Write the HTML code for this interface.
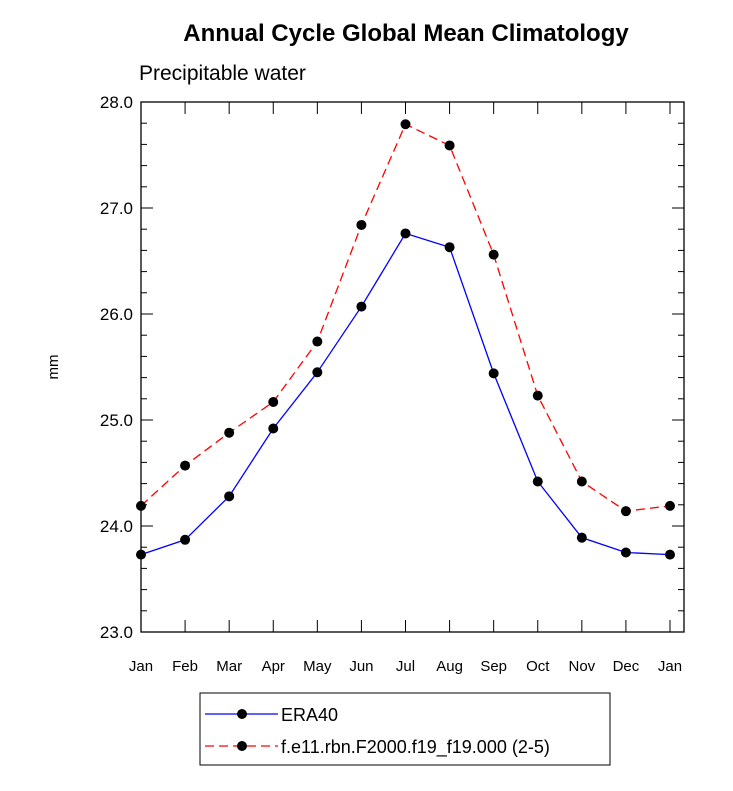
<!DOCTYPE html>
<html><head><meta charset="utf-8"><style>
body{margin:0;background:#fff;font-family:"Liberation Sans",sans-serif;}
</style></head><body>
<svg width="733" height="786" xmlns="http://www.w3.org/2000/svg">
<text x="406" y="41" text-anchor="middle" font-size="24" font-weight="bold">Annual Cycle Global Mean Climatology</text>
<text x="139" y="80" font-size="21">Precipitable water</text>
<text x="0" y="0" font-size="15" transform="translate(58,367) rotate(-90)" text-anchor="middle">mm</text>
<g id="axes"></g>
<g id="series"></g>
<g>
<rect x="200" y="693" width="410" height="72" fill="none" stroke="#000" stroke-width="1"/>
<line x1="205" y1="714" x2="278" y2="714" stroke="#00f" stroke-width="1.3"/>
<circle cx="242" cy="714" r="5" fill="#000"/>
<text x="281" y="721" font-size="18">ERA40</text>
<line x1="205" y1="746" x2="278" y2="746" stroke="#f00" stroke-width="1.3" stroke-dasharray="9,5"/>
<circle cx="242" cy="746" r="5" fill="#000"/>
<text x="281" y="753" font-size="18">f.e11.rbn.F2000.f19_f19.000 (2-5)</text>
</g>
</svg>
<script>
const months=["Jan","Feb","Mar","Apr","May","Jun","Jul","Aug","Sep","Oct","Nov","Dec","Jan"];
const era40=[23.73,23.87,24.28,24.92,25.45,26.07,26.76,26.63,25.44,24.42,23.89,23.75,23.73];
const model=[24.19,24.57,24.88,25.17,25.74,26.84,27.79,27.59,26.56,25.23,24.42,24.14,24.19];
const yTicks=["23.0","24.0","25.0","26.0","27.0","28.0"];
const NS="http://www.w3.org/2000/svg";
const L=141,R=684,T=102,B=632,X0=141,X1=670,ymin=23,ymax=28;
const xs=i=>X0+(X1-X0)*i/(months.length-1);
const ys=v=>B-(v-ymin)/(ymax-ymin)*(B-T);
function mk(tag,attrs,parent){const e=document.createElementNS(NS,tag);for(const k in attrs)e.setAttribute(k,attrs[k]);parent.appendChild(e);return e;}
const ax=document.getElementById('axes');
const frame=mk('rect',{x:L,y:T,width:R-L,height:B-T,fill:'none',stroke:'#000','stroke-width':1.3},ax);


for(let v=ymin;v<=ymax+1e-9;v+=0.2){
 const y=ys(v);const major=Math.abs(v-Math.round(v))<1e-6;const len=major?12:6;
 mk('line',{x1:L,y1:y,x2:L+len,y2:y,stroke:'#000'},ax);
 mk('line',{x1:R,y1:y,x2:R-len,y2:y,stroke:'#000'},ax);
}
yTicks.forEach(t=>{const el=mk('text',{x:L-8,y:ys(parseFloat(t))+6,'text-anchor':'end','font-size':17},ax);el.textContent=t;
 
 });
months.forEach((m,i)=>{const x=xs(i);
 mk('line',{x1:x,y1:B,x2:x,y2:B-12,stroke:'#000'},ax);
 mk('line',{x1:x,y1:T,x2:x,y2:T+12,stroke:'#000'},ax);
 const el=mk('text',{x:x,y:B+39,'text-anchor':'middle','font-size':15},ax);el.textContent=m;
 
 });
const sg=document.getElementById('series');
function draw(data,color,dash,name){
 const pts=data.map((v,i)=>xs(i)+','+ys(v)).join(' ');
 const pl=mk('polyline',{points:pts,fill:'none',stroke:color,'stroke-width':1.3},sg);
 if(dash)pl.setAttribute('stroke-dasharray',dash);
 
 
 data.forEach((v,i)=>{const c=mk('circle',{cx:xs(i),cy:ys(v),r:5,fill:'#000'},sg);
  
  });
}
draw(model,'#f00','9,5','model');
draw(era40,'#00f',null,'era40');
</script>
</body></html>
